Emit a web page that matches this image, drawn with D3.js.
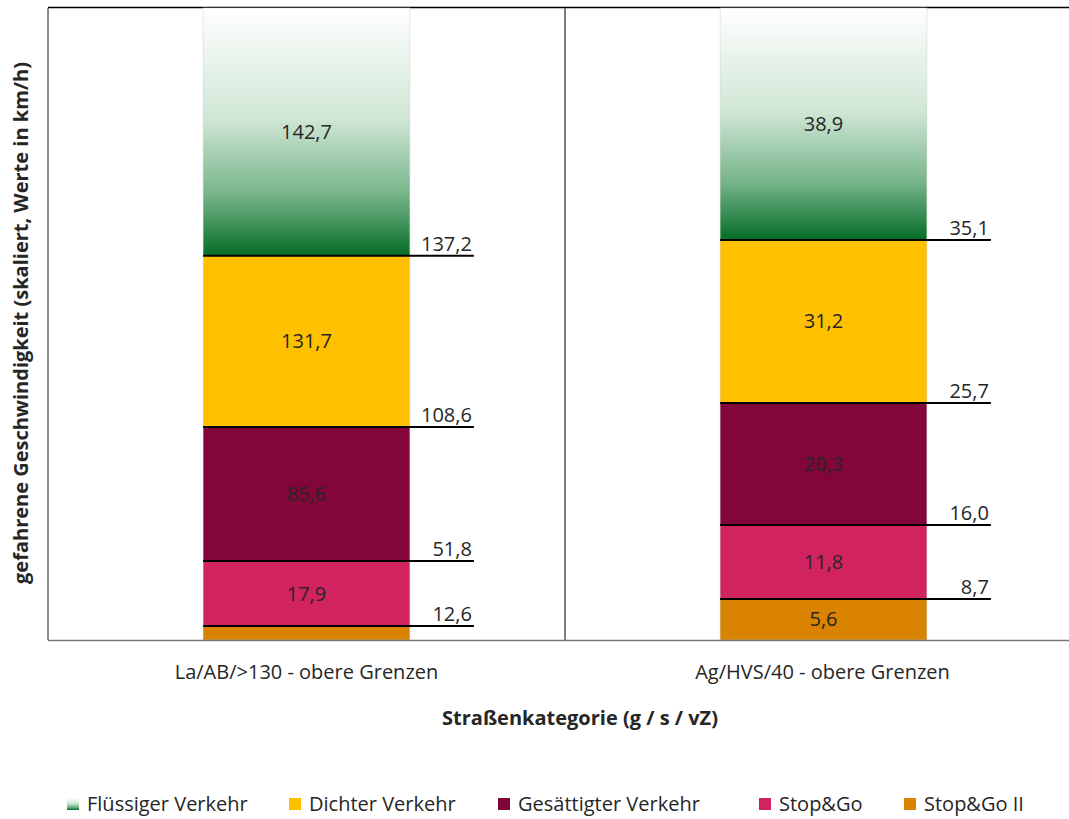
<!DOCTYPE html>
<html>
<head>
<meta charset="utf-8">
<script src="https://cdn.jsdelivr.net/npm/d3@7"></script>
<style>
  body { margin: 0; background: #fff; }
  text { font-family: "Open Sans", "Noto Sans", sans-serif; fill: #262626; }
</style>
</head>
<body>
<svg id="chart" width="1069" height="819"></svg>
<script>
// categories and series (bottom to top)
const categories = ["La/AB/>130 - obere Grenzen", "Ag/HVS/40 - obere Grenzen"];
const seriesNames = ["Stop&Go II", "Stop&Go", "Gesättigter Verkehr", "Dichter Verkehr", "Flüssiger Verkehr"];
const legendOrder = ["Flüssiger Verkehr", "Dichter Verkehr", "Gesättigter Verkehr", "Stop&Go", "Stop&Go II"];
// scaled segment heights (share of column, %)
const heightsCat1 = [2.2, 10.3, 21.2, 27.1, 39.2];
const heightsCat2 = [6.5, 11.7, 19.3, 25.8, 36.7];
// value labels inside the segments (null = not shown)
const midLabelsCat1 = [null, "17,9", "85,6", "131,7", "142,7"];
const midLabelsCat2 = ["5,6", "11,8", "20,3", "31,2", "38,9"];
// upper bounds at segment tops
const boundLabelsCat1 = ["12,6", "51,8", "108,6", "137,2"];
const boundLabelsCat2 = ["8,7", "16,0", "25,7", "35,1"];

const colors = {
  "Stop&Go II": "#d98300",
  "Stop&Go": "#d1235f",
  "Gesättigter Verkehr": "#820639",
  "Dichter Verkehr": "#ffc000"
};

const svg = d3.select("#chart");
const plotLeft = 48, plotRight = 1082, plotTop = 8, plotBottom = 640;
const fs = "20px";

const defs = svg.append("defs");
const grad = defs.append("linearGradient").attr("id", "green")
  .attr("x1", 0).attr("y1", 0).attr("x2", 0).attr("y2", 1);
grad.append("stop").attr("offset", "0%").attr("stop-color", "#ffffff");
grad.append("stop").attr("offset", "45%").attr("stop-color", "#cfe6d5");
grad.append("stop").attr("offset", "75%").attr("stop-color", "#77b58a");
grad.append("stop").attr("offset", "100%").attr("stop-color", "#056d27");
function fillFor(name) { return name === "Flüssiger Verkehr" ? "url(#green)" : colors[name]; }

const x = d3.scaleBand().domain(categories).range([plotLeft, plotRight]).paddingInner(0).paddingOuter(0);
const y = d3.scaleLinear().domain([0, 100]).range([plotBottom, plotTop]);

const columns = [
  { cat: categories[0], heights: heightsCat1, mids: midLabelsCat1, bounds: boundLabelsCat1 },
  { cat: categories[1], heights: heightsCat2, mids: midLabelsCat2, bounds: boundLabelsCat2 }
];

// plot frame
svg.append("line").attr("x1", plotLeft).attr("x2", plotRight).attr("y1", plotTop - 0.5).attr("y2", plotTop - 0.5)
  .attr("stroke", "#000").attr("stroke-width", 1.5);
svg.append("line").attr("x1", plotLeft).attr("x2", plotLeft).attr("y1", plotTop).attr("y2", plotBottom)
  .attr("stroke", "#666").attr("stroke-width", 1.5);
svg.append("line").attr("x1", x(categories[1])).attr("x2", x(categories[1])).attr("y1", plotTop).attr("y2", plotBottom)
  .attr("stroke", "#555").attr("stroke-width", 1.5);

const barW = x.bandwidth() * 0.4;

columns.forEach(col => {
  const bx = x(col.cat) + (x.bandwidth() - barW) / 2;
  let acc = 0;
  const segs = col.heights.map((h, i) => {
    const s = { name: seriesNames[i], y0: acc, y1: acc + h, mid: col.mids[i] };
    acc += h;
    return s;
  });
  const g = svg.append("g");
  g.selectAll("rect").data(segs).enter().append("rect")
    .attr("x", bx).attr("width", barW)
    .attr("y", d => y(d.y1)).attr("height", d => y(d.y0) - y(d.y1))
    .attr("fill", d => fillFor(d.name))
    .attr("stroke", "#d0d0d0").attr("stroke-width", 0.5);
  g.selectAll("text.mid").data(segs.filter(d => d.mid)).enter().append("text")
    .attr("class", "mid")
    .attr("x", bx + barW / 2).attr("y", d => (y(d.y0) + y(d.y1)) / 2)
    .attr("dy", "0.35em").attr("text-anchor", "middle")
    .style("font-size", fs).text(d => d.mid);
  // boundary lines with upper limit labels
  const bnd = segs.slice(0, 4).map((d, i) => ({ yv: d.y1, label: col.bounds[i] }));
  g.selectAll("line.b").data(bnd).enter().append("line")
    .attr("x1", bx).attr("x2", bx + barW + 64)
    .attr("y1", d => y(d.yv)).attr("y2", d => y(d.yv))
    .attr("stroke", "#000").attr("stroke-width", 2);
  g.selectAll("text.b").data(bnd).enter().append("text")
    .attr("x", bx + barW + 62).attr("y", d => y(d.yv) - 5)
    .attr("text-anchor", "end").style("font-size", fs).text(d => d.label);
});

// bottom axis line
svg.append("line").attr("x1", plotLeft).attr("x2", plotRight).attr("y1", plotBottom + 0.5).attr("y2", plotBottom + 0.5)
  .attr("stroke", "#777").attr("stroke-width", 1.5);

// category labels
svg.selectAll("text.cat").data(categories).enter().append("text")
  .attr("x", d => x(d) + x.bandwidth() / 2 - (d === categories[1] ? 1 : 0)).attr("y", 679)
  .attr("text-anchor", "middle").style("font-size", fs).text(d => d);

// axis titles
svg.append("text").attr("x", 580).attr("y", 725).attr("text-anchor", "middle")
  .style("font-size", fs).style("font-weight", "bold").text("Straßenkategorie (g / s / vZ)");
svg.append("text").attr("transform", "translate(28,323) rotate(-90)").attr("text-anchor", "middle")
  .style("font-size", fs).style("font-weight", "bold")
  .text("gefahrene Geschwindigkeit (skaliert, Werte in km/h)");

// legend
const legendX = [67, 289, 498, 759, 904];
const lg = svg.selectAll("g.leg").data(legendOrder).enter().append("g")
  .attr("transform", (d, i) => `translate(${legendX[i]},798)`);
lg.append("rect").attr("width", 12).attr("height", 12).attr("fill", d => fillFor(d));
lg.append("text").attr("x", 20).attr("y", 6).attr("dy", "0.35em")
  .style("font-size", fs).text(d => d);
</script>
</body>
</html>
